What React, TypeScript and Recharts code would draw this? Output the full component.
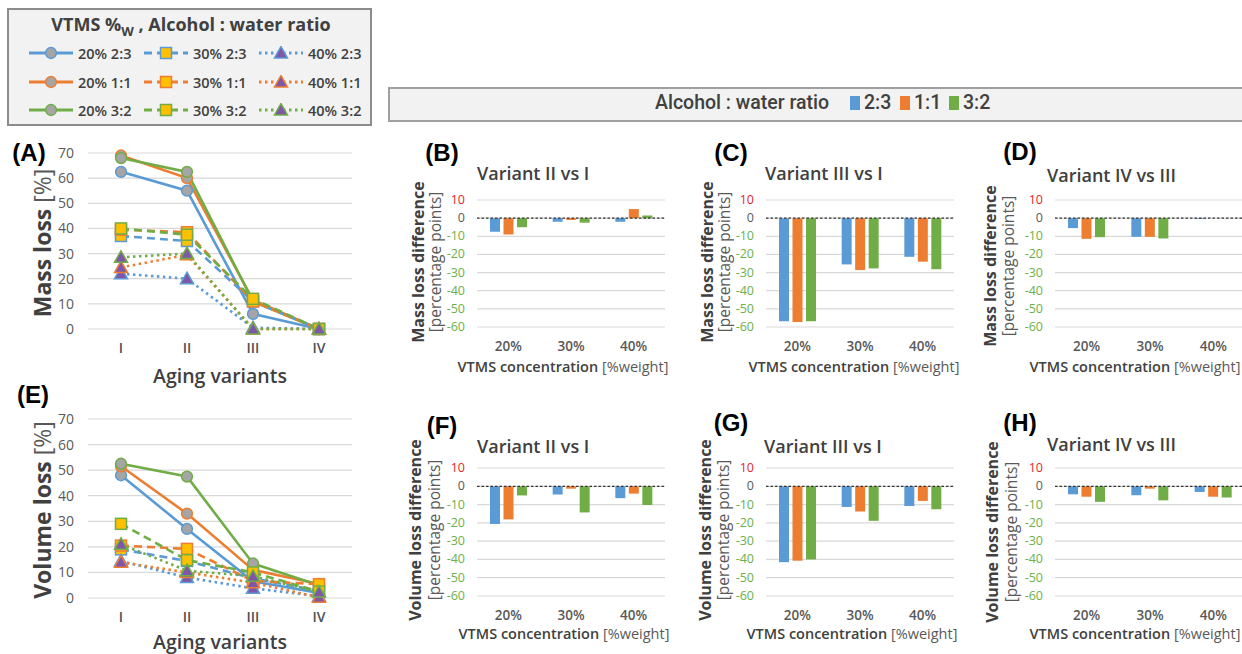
import React from 'react';
import { LineChart, Line, BarChart, Bar, XAxis, YAxis, CartesianGrid, ReferenceLine } from 'recharts';

const BLUE = '#5B9BD5';
const ORANGE = '#ED7D31';
const GREEN = '#70AD47';
const GRAY_MARK = '#A5A5A5';
const YELLOW_MARK = '#FFC000';
const PURPLE_MARK = '#7E57A8';
const FONT = '"Open Sans", sans-serif';
const TXT_DARK = '#404040';
const TXT_MID = '#595959';

// ---- categories / labels ----
const agingVariants = ['I', 'II', 'III', 'IV'];
const concentrations = ['20%', '30%', '40%'];
const ratios = ['2:3', '1:1', '3:2'];
const vtmsLevels = ['20%', '30%', '40%'];
const lossTicks = [0, 10, 20, 30, 40, 50, 60, 70];
const diffTicks = [10, 0, -10, -20, -30, -40, -50, -60];

// ---- (A) Mass loss [%] ----
const mass20_23 = [62.5, 55, 6, 0];
const mass20_11 = [69, 60, 11.5, 0];
const mass20_32 = [68, 62.5, 11, 0];
const mass30_23 = [37, 35, 11, 0];
const mass30_11 = [39.5, 38.5, 11, 0];
const mass30_32 = [40, 37.5, 12, 0];
const mass40_23 = [22, 20, 0.5, 0];
const mass40_11 = [24.5, 29.5, 0, 0];
const mass40_32 = [28.5, 30, 0, 0];

// ---- (E) Volume loss [%] ----
const vol20_23 = [48, 27, 6.5, 2];
const vol20_11 = [51.5, 33, 11, 5.5];
const vol20_32 = [52.5, 47.5, 13.5, 5];
const vol30_23 = [19, 14.5, 7.7, 2.8];
const vol30_11 = [20.5, 19.2, 6.7, 5.4];
const vol30_32 = [29, 14.8, 10, 2.5];
const vol40_23 = [14.5, 8, 3.8, 0.7];
const vol40_11 = [14, 10, 6, 0.3];
const vol40_32 = [21, 10.7, 8.5, 2.3];

// ---- (B)-(D) Mass loss difference ----
const massIIvsI_23 = [-7.5, -2, -2];
const massIIvsI_11 = [-9, -1, 5];
const massIIvsI_32 = [-5, -2.5, 1.5];
const massIIIvsI_23 = [-56.8, -25.5, -21.3];
const massIIIvsI_11 = [-57.2, -28.6, -24];
const massIIIvsI_32 = [-56.8, -27.7, -28.2];
const massIVvsIII_23 = [-5.5, -10.3, -0.4];
const massIVvsIII_11 = [-11.4, -10.3, 0];
const massIVvsIII_32 = [-10.5, -11.2, 0];

// ---- (F)-(H) Volume loss difference ----
const volIIvsI_23 = [-20.6, -4.5, -6.5];
const volIIvsI_11 = [-18.1, -1.3, -4];
const volIIvsI_32 = [-5, -14.3, -10.3];
const volIIIvsI_23 = [-41.5, -11.3, -10.8];
const volIIIvsI_11 = [-40.7, -13.8, -8];
const volIIIvsI_32 = [-40, -18.9, -12.5];
const volIVvsIII_23 = [-4.4, -4.9, -3.1];
const volIVvsIII_11 = [-5.7, -1.3, -5.7];
const volIVvsIII_32 = [-8.5, -7.7, -6.2];

const ratioColors = [BLUE, ORANGE, GREEN];
const levelDash = [undefined, '8 5', '2.5 3.5'];
const levelMarker = ['circle', 'square', 'triangle'];

type SeriesMeta = { key: string; name: string; color: string; dash?: string; marker: string };
const seriesMeta: SeriesMeta[] = [];
vtmsLevels.forEach((lv, li) => {
  ratios.forEach((r, ri) => {
    seriesMeta.push({ key: `s${li}_${ri}`, name: `${lv} ${r}`, color: ratioColors[ri], dash: levelDash[li], marker: levelMarker[li] });
  });
});

const massSeries = [mass20_23, mass20_11, mass20_32, mass30_23, mass30_11, mass30_32, mass40_23, mass40_11, mass40_32];
const volSeries = [vol20_23, vol20_11, vol20_32, vol30_23, vol30_11, vol30_32, vol40_23, vol40_11, vol40_32];

const buildLineData = (series: number[][]) =>
  agingVariants.map((v, i) => {
    const row: any = { variant: v };
    seriesMeta.forEach((m, k) => {
      row[m.key] = series[k][i];
    });
    return row;
  });

const massData = buildLineData(massSeries);
const volData = buildLineData(volSeries);

const buildDiffData = (a: number[], b: number[], c: number[]) =>
  concentrations.map((cc, i) => ({ conc: cc, r23: a[i], r11: b[i], r32: c[i] }));

function Marker({ cx, cy, shape, color }: { cx: number; cy: number; shape: string; color: string }) {
  if (cx == null || cy == null) return null;
  if (shape === 'circle') return <circle cx={cx} cy={cy} r={5.4} fill={GRAY_MARK} stroke={color} strokeWidth={1.5} />;
  if (shape === 'square')
    return <rect x={cx - 5.5} y={cy - 5.5} width={11} height={11} fill={YELLOW_MARK} stroke={color} strokeWidth={1.5} />;
  return (
    <polygon
      points={`${cx},${cy - 6.5} ${cx + 6.5},${cy + 5} ${cx - 6.5},${cy + 5}`}
      fill={PURPLE_MARK}
      stroke={color}
      strokeWidth={1.5}
    />
  );
}

function Txt({ x, y, rotate, anchor, children, style }: any) {
  const tx = anchor === 'start' ? 'translate(0,-50%)' : 'translate(-50%,-50%)';
  return (
    <div
      style={{
        position: 'absolute',
        left: x,
        top: y,
        transform: `${tx}${rotate ? ` rotate(${rotate}deg)` : ''}`,
        whiteSpace: 'nowrap',
        fontFamily: FONT,
        lineHeight: 1,
        color: TXT_DARK,
        ...style,
      }}
    >
      {children}
    </div>
  );
}

function CatTick(props: any) {
  const { x, y, payload } = props;
  return (
    <text x={x} y={y} dy={10} textAnchor="middle" fill="#505050" fontSize={14} fontFamily={FONT} fontWeight={600}>
      {payload.value}
    </text>
  );
}

function LossChart({ top, height, marginTop, plotH, data }: any) {
  const xAxisH = 30;
  const bottom = height - marginTop - plotH - xAxisH;
  return (
    <div style={{ position: 'absolute', left: 0, top, width: 380, height }}>
      <LineChart width={380} height={height} data={data} margin={{ top: marginTop, right: 28, left: 58, bottom }}>
        <CartesianGrid vertical={false} stroke="#d9d9d9" strokeWidth={1.2} />
        <XAxis
          dataKey="variant"
          padding={{ left: 33, right: 33 }}
          axisLine={false}
          tickLine={false}
          tickMargin={8}
          height={xAxisH}
          interval={0}
          tick={<CatTick />}
        />
        <YAxis
          domain={[0, 70]}
          ticks={lossTicks}
          width={30}
          axisLine={false}
          tickLine={false}
          tickMargin={8}
          interval={0}
          tick={{ fill: TXT_MID, fontSize: 14, fontFamily: FONT }}
        />
        {seriesMeta.map((m) => (
          <Line
            key={m.key}
            dataKey={m.key}
            type="linear"
            stroke={m.color}
            strokeWidth={2.6}
            strokeDasharray={m.dash}
            isAnimationActive={false}
            activeDot={false}
            dot={(p: any) => <Marker key={`${m.key}-${p.index}`} cx={p.cx} cy={p.cy} shape={m.marker} color={m.color} />}
          />
        ))}
      </LineChart>
    </div>
  );
}

function DiffTick(props: any) {
  const { x, y, payload } = props;
  const v = payload.value;
  const fill = v > 0 ? '#E3262B' : v < 0 ? '#6BB04A' : TXT_MID;
  return (
    <text x={x} y={y} dy={4} textAnchor="end" fill={fill} fontSize={12.5} fontFamily={FONT}>
      {v}
    </text>
  );
}

function DiffPanel({ plotLeft, plotWidth, row, data }: any) {
  const top = row === 'top' ? 120 : 388;
  const height = row === 'top' ? 260 : 266;
  const plotH = row === 'top' ? 127 : 128;
  const xAxisH = 24;
  const width = 87 + plotWidth + 15;
  const bottom = height - 80 - plotH - xAxisH;
  return (
    <div style={{ position: 'absolute', left: plotLeft - 87, top, width, height }}>
      <BarChart width={width} height={height} data={data} barGap={3.5} margin={{ top: 80, right: 15, left: 57, bottom }}>
        <CartesianGrid vertical={false} stroke="#d9d9d9" strokeWidth={1.2} />
        <XAxis
          dataKey="conc"
          axisLine={false}
          tickLine={false}
          tickMargin={8}
          height={xAxisH}
          interval={0}
          tick={{ fill: TXT_MID, fontSize: 13.5, fontFamily: FONT, fontWeight: 600 }}
        />
        <YAxis
          domain={[-60, 10]}
          ticks={diffTicks}
          width={30}
          axisLine={false}
          tickLine={false}
          tickMargin={6}
          interval={0}
          tick={<DiffTick />}
        />
        <Bar dataKey="r23" fill={BLUE} barSize={10} isAnimationActive={false} />
        <Bar dataKey="r11" fill={ORANGE} barSize={10} isAnimationActive={false} />
        <Bar dataKey="r32" fill={GREEN} barSize={10} isAnimationActive={false} />
        <ReferenceLine y={0} stroke="#333" strokeDasharray="2.5 2" strokeWidth={1.2} />
      </BarChart>
    </div>
  );
}

function LegendSample({ m }: { m: SeriesMeta }) {
  return (
    <svg width={46} height={14} style={{ display: 'block' }}>
      <line x1={1} y1={7} x2={45} y2={7} stroke={m.color} strokeWidth={3} strokeDasharray={m.dash} />
      <Marker cx={23} cy={7} shape={m.marker} color={m.color} />
    </svg>
  );
}

const panels = [
  { letter: '(B)', lx: 442, ly: 153, title: 'Variant II vs I', tx: 477, ty: 173, plotLeft: 477, plotWidth: 188, row: 'top', yl1: 'Mass loss difference', y1x: 418, y2x: 436, yly: 262, xtx: 563, xty: 367, data: buildDiffData(massIIvsI_23, massIIvsI_11, massIIvsI_32) },
  { letter: '(C)', lx: 731, ly: 153, title: 'Variant III vs I', tx: 765, ty: 173, plotLeft: 766, plotWidth: 188, row: 'top', yl1: 'Mass loss difference', y1x: 707, y2x: 725, yly: 262, xtx: 854, xty: 367, data: buildDiffData(massIIIvsI_23, massIIIvsI_11, massIIIvsI_32) },
  { letter: '(D)', lx: 1020, ly: 152, title: 'Variant IV vs III', tx: 1047, ty: 175, plotLeft: 1055, plotWidth: 190, row: 'top', yl1: 'Mass loss difference', y1x: 990, y2x: 1009, yly: 266, xtx: 1135, xty: 367, data: buildDiffData(massIVvsIII_23, massIVvsIII_11, massIVvsIII_32) },
  { letter: '(F)', lx: 442, ly: 426, title: 'Variant II vs I', tx: 477, ty: 446, plotLeft: 477, plotWidth: 188, row: 'bottom', yl1: 'Volume loss difference', y1x: 415, y2x: 435, yly: 530, xtx: 564, xty: 634, data: buildDiffData(volIIvsI_23, volIIvsI_11, volIIvsI_32) },
  { letter: '(G)', lx: 731, ly: 423, title: 'Variant III vs I', tx: 764, ty: 446, plotLeft: 766, plotWidth: 188, row: 'bottom', yl1: 'Volume loss difference', y1x: 705, y2x: 724, yly: 530, xtx: 852, xty: 634, data: buildDiffData(volIIIvsI_23, volIIIvsI_11, volIIIvsI_32) },
  { letter: '(H)', lx: 1020, ly: 423, title: 'Variant IV vs III', tx: 1047, ty: 444, plotLeft: 1055, plotWidth: 190, row: 'bottom', yl1: 'Volume loss difference', y1x: 992, y2x: 1012, yly: 532, xtx: 1135, xty: 634, data: buildDiffData(volIVvsIII_23, volIVvsIII_11, volIVvsIII_32) },
];

const letterStyle = { fontFamily: '"Liberation Sans", Arial, sans-serif', fontWeight: 700, fontSize: 24, color: '#000' };

export default function App() {
  return (
    <div style={{ position: 'absolute', left: 0, top: 0, width: 1242, height: 654, overflow: 'hidden', background: '#fff' }}>
      {/* Legend box for line charts */}
      <div
        style={{
          position: 'absolute',
          left: 7,
          top: 8,
          width: 361,
          height: 114,
          border: '2px solid #8c8c8c',
          background: '#f2f2f2',
        }}
      />
      <Txt x={191} y={26} style={{ fontSize: 18, fontWeight: 700, color: TXT_DARK }}>
        VTMS %<sub style={{ fontSize: 13, verticalAlign: -5 }}>W</sub> , Alcohol : water ratio
      </Txt>
      {ratios.map((r, ri) =>
        vtmsLevels.map((lv, li) => {
          const m = seriesMeta[li * 3 + ri];
          const colX = [28, 143, 258][li];
          const rowY = [53, 82, 110][ri];
          return (
            <div
              key={m.key}
              style={{ position: 'absolute', left: colX, top: rowY - 8, height: 16, display: 'flex', alignItems: 'center', gap: 4 }}
            >
              <LegendSample m={m} />
              <span style={{ fontFamily: FONT, fontWeight: 600, fontSize: 14.5, color: TXT_DARK, whiteSpace: 'nowrap' }}>{m.name}</span>
            </div>
          );
        })
      )}

      {/* Legend bar for bar charts */}
      <div
        style={{
          position: 'absolute',
          left: 388,
          top: 87,
          width: 870,
          height: 31,
          borderTop: '2px solid #a0a0a0',
          borderBottom: '2px solid #a0a0a0',
          borderLeft: '2px solid #a0a0a0',
          background: '#f2f2f2',
        }}
      />
      <Txt x={655} y={103} anchor="start" style={{ fontFamily: 'Roboto, sans-serif', fontWeight: 500, fontSize: 19.5, color: TXT_DARK }}>
        Alcohol : water ratio
      </Txt>
      {ratios.map((r, ri) => (
        <React.Fragment key={r}>
          <div style={{ position: 'absolute', left: [850, 900, 949][ri], top: 96, width: 10, height: 14, background: ratioColors[ri] }} />
          <Txt x={[864, 914, 963][ri]} y={103} anchor="start" style={{ fontFamily: 'Roboto, sans-serif', fontWeight: 500, fontSize: 19.5, color: TXT_DARK }}>
            {r}
          </Txt>
        </React.Fragment>
      ))}

      {/* (A) Mass loss */}
      <LossChart top={130} height={260} marginTop={23} plotH={176} data={massData} />
      <Txt x={29} y={153} style={letterStyle}>(A)</Txt>
      <Txt x={42} y={243} rotate={-90} style={{ fontSize: 23 }}>
        <span style={{ fontWeight: 700 }}>Mass loss</span> <span style={{ color: TXT_MID }}>[%]</span>
      </Txt>
      <Txt x={220} y={376} style={{ fontSize: 19.5, fontWeight: 600 }}>Aging variants</Txt>

      {/* (E) Volume loss */}
      <LossChart top={395} height={260} marginTop={24} plotH={179} data={volData} />
      <Txt x={33} y={395} style={letterStyle}>(E)</Txt>
      <Txt x={42} y={510} rotate={-90} style={{ fontSize: 23 }}>
        <span style={{ fontWeight: 700 }}>Volume loss</span> <span style={{ color: TXT_MID }}>[%]</span>
      </Txt>
      <Txt x={220} y={642} style={{ fontSize: 19.5, fontWeight: 600 }}>Aging variants</Txt>

      {/* Difference panels */}
      {panels.map((p) => (
        <React.Fragment key={p.letter}>
          <DiffPanel plotLeft={p.plotLeft} plotWidth={p.plotWidth} row={p.row} data={p.data} />
          <Txt x={p.lx} y={p.ly} style={letterStyle}>{p.letter}</Txt>
          <Txt x={p.tx} y={p.ty} anchor="start" style={{ fontSize: 18, fontWeight: 600 }}>{p.title}</Txt>
          <Txt x={p.y1x} y={p.yly} rotate={-90} style={{ fontSize: 16, fontWeight: 700 }}>{p.yl1}</Txt>
          <Txt x={p.y2x} y={p.yly} rotate={-90} style={{ fontSize: 15.5, color: TXT_MID }}>[percentage points]</Txt>
          <Txt x={p.xtx} y={p.xty} style={{ fontSize: 14.5 }}>
            <span style={{ fontWeight: 600 }}>VTMS concentration</span> <span style={{ color: TXT_MID }}>[%weight]</span>
          </Txt>
        </React.Fragment>
      ))}
    </div>
  );
}
